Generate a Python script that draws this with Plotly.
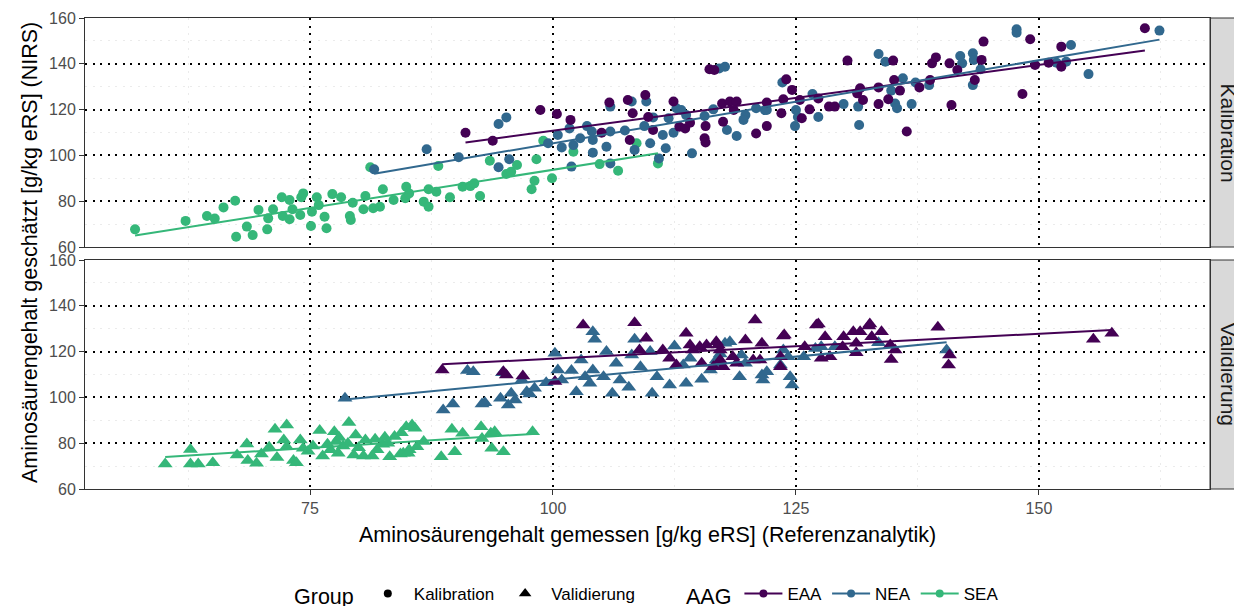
import numpy as np
import plotly.graph_objects as go

# ---------------- data ----------------
COLORS = {"EAA": "#440154", "NEA": "#31688E", "SEA": "#35B779"}
AAG = ["EAA", "NEA", "SEA"]
GROUPS = ["Kalibration", "Validierung"]

# Kalibration
kal_sea_x = [57.0, 62.2, 64.4, 65.2, 66.1, 67.3, 67.4, 68.5, 69.1, 69.7, 70.6, 70.7, 71.2, 72.1, 72.2,
             72.9, 72.9, 73.2, 74.0, 74.1, 74.3, 75.1, 75.2, 75.7, 75.9, 76.5, 76.7, 77.3, 78.2, 79.1,
             79.2, 79.4, 80.5, 80.7, 81.2, 81.5, 82.2, 82.5, 83.6, 84.8, 84.9, 85.2, 86.7, 87.2, 87.2,
             88.0, 88.2, 89.4, 90.7, 91.5, 91.9, 92.5, 93.5, 95.2, 95.7, 96.3, 97.8, 98.1, 98.3, 99.0,
             99.9, 102.1, 104.8, 106.7, 108.6, 110.8]
kal_sea_y = [67.7, 71.4, 73.5, 72.4, 77.3, 80.2, 64.5, 68.9, 65.2, 76.2, 67.7, 72.5, 76.5, 81.7, 73.5,
             80.5, 72.1, 76.5, 74.0, 81.7, 83.4, 69.2, 75.4, 81.7, 78.3, 73.2, 68.2, 83.1, 81.7, 73.5,
             71.8, 79.3, 76.5, 82.3, 94.8, 76.9, 77.6, 85.2, 80.5, 81.3, 86.3, 83.4, 79.8, 77.6, 85.2,
             84.1, 95.4, 81.7, 86.3, 86.6, 87.8, 82.3, 97.7, 91.9, 92.9, 95.8, 85.2, 88.9, 98.3, 106.4,
             90.0, 101.6, 96.2, 93.3, 105.3, 96.5]

kal_nea_x = [81.6, 87.0, 90.3, 94.4, 95.2, 95.5, 94.4, 99.5, 100.5, 100.9, 101.7, 101.9, 102.1, 102.8,
             103.5, 104.1, 104.1, 104.0, 105.5, 105.9, 105.9, 105.9, 107.4, 108.1, 108.4, 109.6, 109.4,
             110.0, 110.3, 110.9, 111.6, 111.3, 111.9, 112.4, 112.7, 113.2, 113.7, 114.3, 115.6, 116.5,
             117.1, 117.7, 117.9, 118.9, 119.8, 120.9, 121.8, 123.6, 124.9, 125.2, 126.7, 127.3, 129.9,
             131.4, 131.5, 134.8, 135.2, 135.4, 136.0, 136.9, 134.2, 133.5, 125.0, 122.0, 119.6, 137.3,
             138.7, 141.9, 142.1, 143.2, 143.3, 143.2, 144.0, 147.7, 147.7, 151.8, 152.8, 153.3, 155.1,
             162.4]
kal_nea_y = [93.9, 102.7, 99.2, 113.7, 116.6, 98.3, 94.8, 105.3, 108.9, 103.5, 111.8, 95.1, 104.5, 107.5,
             112.8, 101.2, 106.7, 110.4, 103.8, 96.5, 110.4, 121.3, 110.9, 123.5, 102.4, 123.5, 112.8,
             105.3, 116.6, 98.7, 103.1, 108.9, 116.2, 109.9, 120.6, 119.8, 117.6, 100.9, 117.2, 120.1,
             138.0, 138.7, 111.1, 108.5, 117.6, 120.6, 119.8, 131.8, 112.8, 116.8, 126.8, 116.8, 122.4,
             121.3, 113.3, 128.3, 122.7, 120.6, 133.7, 122.4, 140.9, 144.3, 119.8, 119.8, 115.5, 131.8,
             130.7, 143.4, 140.2, 144.6, 141.7, 130.7, 137.6, 155.1, 153.6, 140.5, 140.9, 148.2, 135.5,
             154.5]

kal_eaa_x = [91.0, 93.8, 98.7, 100.4, 101.8, 105.0, 105.8, 107.7, 108.2, 107.9, 109.5, 109.8, 110.3,
             112.4, 113.0, 113.6, 114.1, 115.6, 115.7, 115.7, 116.1, 116.6, 117.4, 117.5, 118.2, 118.9,
             118.6, 120.9, 122.0, 122.0, 123.5, 124.0, 124.6, 125.4, 123.7, 125.6, 126.4, 127.3, 128.4,
             129.0, 130.3, 131.6, 131.3, 131.9, 133.5, 133.5, 134.5, 135.1, 135.7, 135.0, 136.4, 137.7,
             138.8, 139.0, 139.4, 140.8, 141.0, 141.6, 143.4, 144.1, 144.3, 148.3, 149.1, 149.6, 151.0,
             152.3, 152.3, 160.9]
kal_eaa_y = [109.9, 106.4, 119.8, 118.1, 115.5, 109.9, 123.1, 124.2, 118.4, 106.7, 126.4, 116.8, 111.1,
             123.5, 112.5, 111.8, 114.3, 107.5, 105.6, 112.8, 137.6, 137.3, 122.7, 114.7, 123.5, 123.5,
             119.8, 109.6, 112.8, 123.1, 118.4, 133.2, 128.6, 124.2, 124.5, 116.2, 120.1, 124.9, 121.3,
             121.3, 141.4, 129.3, 127.1, 124.2, 129.7, 122.4, 124.5, 132.9, 128.3, 141.4, 110.4, 129.7,
             132.9, 140.2, 142.8, 140.2, 122.0, 137.3, 132.9, 141.7, 149.7, 126.8, 150.7, 139.5, 140.5,
             147.5, 138.7, 155.5]

# Validierung
val_sea_x = [60.1, 62.7, 62.7, 63.5, 65.0, 67.5, 68.5, 68.6, 69.5, 70.0, 70.8, 71.4, 72.6, 71.6, 72.3,
             72.6, 73.3, 73.6, 74.0, 74.3, 75.3, 76.0, 76.3, 77.1, 77.5, 77.7, 77.9, 78.4, 79.0, 78.9,
             79.7, 79.5, 80.5, 80.7, 81.7, 81.4, 81.9, 82.7, 83.2, 84.3, 83.7, 84.4, 84.9, 85.5, 85.8,
             85.2, 86.0, 86.7, 88.5, 89.6, 89.9, 90.7, 92.6, 92.7, 93.6, 94.0, 93.7, 94.9, 97.9, 84.6,
             85.1, 74.8, 76.8, 78.0, 80.0, 82.5, 83.0]
val_sea_y = [70.9, 77.3, 70.9, 70.9, 71.5, 74.8, 79.7, 72.4, 71.2, 75.3, 78.2, 86.1, 88.0, 73.8, 81.4,
             78.5, 72.4, 71.5, 81.4, 77.8, 78.8, 85.5, 74.4, 77.1, 85.0, 80.7, 75.6, 78.8, 89.0, 79.9,
             83.6, 74.8, 74.4, 81.4, 81.7, 74.4, 77.1, 82.6, 74.1, 75.3, 82.9, 84.6, 87.2, 88.0, 86.5,
             77.1, 78.5, 80.7, 74.1, 86.1, 76.3, 84.3, 87.2, 82.1, 84.3, 85.0, 77.8, 76.3, 85.0, 75.6,
             75.6, 76.5, 79.5, 82.5, 78.0, 79.5, 80.0]

val_nea_x = [78.6, 88.7, 89.7, 91.2, 91.8, 92.7, 93.0, 94.6, 94.8, 95.4, 95.7, 96.1, 96.8, 97.3, 97.6,
             98.1, 99.3, 100.2, 100.5, 100.9, 101.9, 102.4, 102.9, 103.3, 103.8, 104.1, 104.1, 104.3,
             105.2, 105.5, 106.1, 106.5, 106.9, 107.8, 108.1, 108.4, 109.0, 110.0, 110.7, 110.2, 112.0,
             112.5, 113.4, 114.1, 113.7, 115.3, 116.2, 116.8, 117.2, 117.7, 117.2, 118.2, 119.2, 119.8,
             121.5, 122.0, 123.4, 123.7, 124.2, 124.4, 124.6, 125.8, 127.0, 119.4, 121.6, 127.6, 129.0,
             133.5, 140.5]
val_nea_y = [99.6, 94.5, 97.1, 111.7, 111.2, 97.1, 97.7, 99.6, 110.8, 96.7, 101.8, 98.9, 107.6, 102.5,
             101.5, 104.0, 106.4, 119.3, 112.0, 107.6, 111.7, 102.5, 116.3, 109.0, 106.2, 112.0, 128.7,
             125.4, 109.0, 120.0, 101.8, 114.9, 107.6, 104.4, 118.5, 125.4, 113.4, 120.0, 109.0, 101.8,
             105.4, 122.4, 114.1, 117.1, 106.2, 107.9, 112.0, 116.3, 119.0, 123.6, 114.9, 124.3, 109.0,
             114.9, 109.8, 111.2, 114.1, 120.7, 117.8, 109.0, 105.4, 117.8, 121.4, 118.5, 107.6, 122.1,
             122.1, 123.9, 120.7]

val_eaa_x = [88.6, 95.2, 96.9, 100.2, 103.1, 108.4, 109.6, 108.9, 111.3, 112.0, 112.7, 113.7, 114.1,
             115.1, 115.8, 116.8, 115.3, 116.5, 117.5, 120.8, 119.8, 121.5, 123.7, 125.9, 127.1, 114.4,
             117.0, 118.5, 117.2, 118.9, 121.3, 123.4, 94.9, 123.8, 123.4, 120.6, 117.2, 127.3, 128.0,
             127.6, 128.5, 129.9, 129.8, 130.9, 131.2, 131.6, 132.6, 132.8, 133.8, 131.2, 134.7, 135.2,
             134.8, 139.6, 140.8, 140.7, 155.6, 157.5, 132.5]
val_eaa_y = [112.0, 109.8, 109.3, 106.9, 131.6, 132.6, 125.8, 120.7, 120.7, 117.1, 114.1, 128.0, 122.9,
             122.1, 122.9, 124.3, 114.9, 113.4, 113.4, 133.8, 125.1, 123.6, 126.8, 122.1, 131.6, 120.7,
             122.9, 117.8, 116.3, 114.9, 116.3, 117.8, 111.2, 127.2, 113.4, 116.3, 120.7, 132.1, 126.5,
             117.1, 117.8, 126.5, 122.1, 128.7, 123.6, 128.7, 132.1, 126.5, 128.7, 119.5, 122.9, 120.7,
             116.6, 130.6, 118.5, 114.1, 125.4, 128.0, 131.2]

DATA = {
    ("Kalibration", "SEA"): (kal_sea_x, kal_sea_y),
    ("Kalibration", "NEA"): (kal_nea_x, kal_nea_y),
    ("Kalibration", "EAA"): (kal_eaa_x, kal_eaa_y),
    ("Validierung", "SEA"): (val_sea_x, val_sea_y),
    ("Validierung", "NEA"): (val_nea_x, val_nea_y),
    ("Validierung", "EAA"): (val_eaa_x, val_eaa_y),
}

X_TICKS = [75, 100, 125, 150]
Y_TICKS = [60, 80, 100, 120, 140, 160]

# ---------------- figure ----------------
FONT = "Liberation Sans, Arial, sans-serif"
W, H = 1234, 606
L, R, T, B = 85, 24, 18, 117
pw, ph = W - L - R, H - T - B
gap = 13
panel_h = (ph - gap) / 2
dom_bot = [0, panel_h / ph]
dom_top = [(panel_h + gap) / ph, 1]

fig = go.Figure()
axes = {"Kalibration": ("x", "y"), "Validierung": ("x2", "y2")}
symbols = {"Kalibration": "circle", "Validierung": "triangle-up"}
sizes = {"Kalibration": 10, "Validierung": 13}

for g in GROUPS:
    xa, ya = axes[g]
    for a in ["SEA", "NEA", "EAA"]:
        xs, ys = DATA[(g, a)]
        fig.add_trace(go.Scatter(x=xs, y=ys, mode="markers", xaxis=xa, yaxis=ya,
                                 marker=dict(symbol=symbols[g], size=sizes[g], color=COLORS[a],
                                             line=dict(width=0)),
                                 showlegend=False, hoverinfo="skip"))
    for a in AAG:
        xs, ys = DATA[(g, a)]
        xs_arr, ys_arr = np.array(xs), np.array(ys)
        k, d = np.polyfit(xs_arr, ys_arr, 1)
        lx = np.array([xs_arr.min(), xs_arr.max()])
        fig.add_trace(go.Scatter(x=lx, y=k * lx + d, mode="lines", xaxis=xa, yaxis=ya,
                                 line=dict(color=COLORS[a], width=2),
                                 showlegend=False, hoverinfo="skip"))

# legend entries
fig.add_trace(go.Scatter(x=[None], y=[None], mode="markers", name="Kalibration", legend="legend",
                         marker=dict(symbol="circle", size=8, color="black")))
fig.add_trace(go.Scatter(x=[None], y=[None], mode="markers", name="Validierung", legend="legend",
                         marker=dict(symbol="triangle-up", size=11, color="black")))
for a in AAG:
    fig.add_trace(go.Scatter(x=[None], y=[None], mode="lines+markers", name=a, legend="legend2",
                             marker=dict(symbol="circle", size=8, color=COLORS[a]),
                             line=dict(color=COLORS[a], width=2)))

xr = [51.85, 167.6]
common_x = dict(range=xr, tickvals=X_TICKS, showline=True, mirror=True, linecolor="#333333",
                linewidth=1, zeroline=False, showgrid=True, gridcolor="black", gridwidth=2,
                griddash="2px,5.5px",
                minor=dict(tickvals=[62.5, 87.5, 112.5, 137.5, 162.5], showgrid=True,
                           gridcolor="#EBEBEB", gridwidth=1, ticks=""))
common_y = dict(range=[60, 160], tickvals=Y_TICKS, showline=True, mirror=True, linecolor="#333333",
                linewidth=1, zeroline=False, showgrid=True, gridcolor="black", gridwidth=2,
                griddash="2px,5.5px", ticks="outside", ticklen=5, tickcolor="#333333",
                tickfont=dict(size=16, color="#4D4D4D", family=FONT),
                minor=dict(tickvals=[70, 90, 110, 130, 150], showgrid=True,
                           gridcolor="#EBEBEB", gridwidth=1, ticks=""))

leg_y = -(595 - (H - B)) / ph
fig.update_layout(
    width=W, height=H, margin=dict(l=L, r=R, t=T, b=B, autoexpand=False),
    paper_bgcolor="white", plot_bgcolor="white",
    font=dict(family=FONT, color="black"),
    xaxis=dict(**common_x, anchor="y", matches="x2", showticklabels=False, ticks=""),
    xaxis2=dict(**common_x, anchor="y2", ticks="outside", ticklen=5, tickcolor="#333333",
                tickfont=dict(size=16, color="#4D4D4D", family=FONT)),
    yaxis=dict(**common_y, domain=dom_top, anchor="x"),
    yaxis2=dict(**common_y, domain=dom_bot, anchor="x2"),
    legend=dict(orientation="h", x=(292 - L) / pw, y=leg_y, xanchor="left",
                yanchor="middle", title=dict(text="Group", font=dict(size=21.5), side="left"),
                font=dict(size=17), bgcolor="rgba(0,0,0,0)", itemwidth=42, tracegroupgap=0),
    legend2=dict(orientation="h", x=(684 - L) / pw, y=leg_y, xanchor="left",
                 yanchor="middle", title=dict(text="AAG", font=dict(size=21.5), side="left"),
                 font=dict(size=17), bgcolor="rgba(0,0,0,0)", itemwidth=38),
    showlegend=True,
)

# facet strips
strip_w = 30 / pw
for g, dom in [("Kalibration", dom_top), ("Validierung", dom_bot)]:
    fig.add_shape(type="rect", xref="paper", yref="paper", x0=1, x1=1 + strip_w,
                  y0=dom[0], y1=dom[1], fillcolor="#D9D9D9", line=dict(color="#333333", width=1),
                  layer="below")
    fig.add_annotation(text=g, xref="paper", yref="paper", x=1 + 18 / pw, y=(dom[0] + dom[1]) / 2,
                       textangle=90, showarrow=False, font=dict(size=21, color="#1A1A1A"),
                       xanchor="center", yanchor="middle")

# axis titles
fig.add_annotation(text="Aminosäurengehalt gemessen [g/kg eRS] (Referenzanalytik)", xref="paper",
                   yref="paper", x=0.5, y=-(535 - (H - B)) / ph, showarrow=False,
                   font=dict(size=21.5), xanchor="center", yanchor="middle")
fig.add_annotation(text="Aminosäurengehalt geschätzt [g/kg eRS] (NIRS)", xref="paper", yref="paper",
                   x=(30 - L) / pw, y=(H - B - 253) / ph, textangle=-90, showarrow=False,
                   font=dict(size=21.5), xanchor="center", yanchor="middle")

fig.write_html("out.html")
